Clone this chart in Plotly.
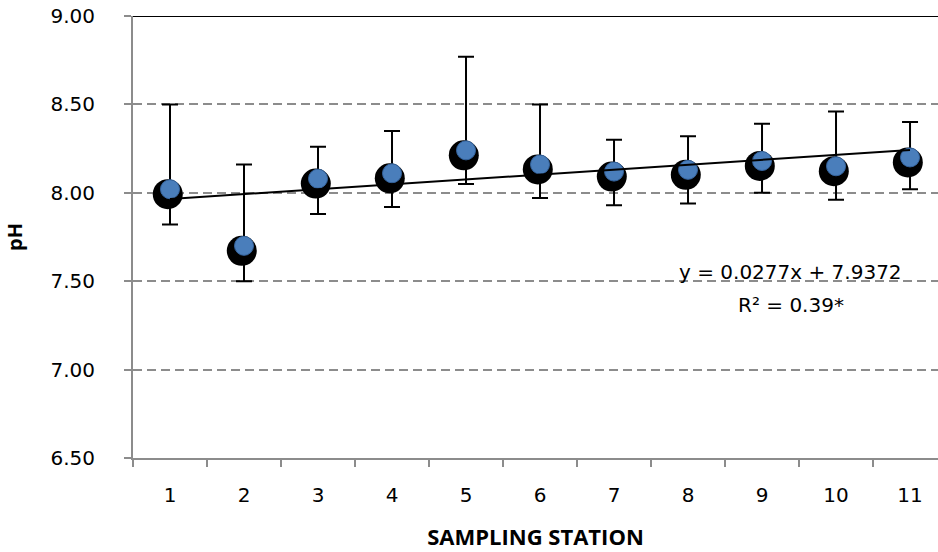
import plotly.graph_objects as go

# pH by sampling station: mean with asymmetric error bars
stations = [1, 2, 3, 4, 5, 6, 7, 8, 9, 10, 11]
ph_mean = [8.02, 7.70, 8.08, 8.11, 8.24, 8.16, 8.12, 8.13, 8.18, 8.15, 8.20]
ph_upper = [8.50, 8.16, 8.26, 8.35, 8.77, 8.50, 8.30, 8.32, 8.39, 8.46, 8.40]
ph_lower = [7.82, 7.50, 7.88, 7.92, 8.05, 7.97, 7.93, 7.94, 8.00, 7.96, 8.02]

# Linear trend reported for the series
trend_slope = 0.0277
trend_intercept = 7.9372
trend_r2_label = "R² = 0.39*"

y_ticks = [6.5, 7.0, 7.5, 8.0, 8.5, 9.0]
y_tick_text = ["6.50", "7.00", "7.50", "8.00", "8.50", "9.00"]
x_tick_text = [str(s) for s in stations]

err_plus = [u - m for u, m in zip(ph_upper, ph_mean)]
err_minus = [m - l for m, l in zip(ph_mean, ph_lower)]
trend_y = [trend_intercept + trend_slope * s for s in stations]

# drop shadow offset (data units) for the marker
shadow_dx, shadow_dy = -0.03, -0.028

FONT = "DejaVu Sans"
TITLE_FONT = "Open Sans"
TICK_SIZE = 20

fig = go.Figure()

# error bars (drawn beneath markers)
fig.add_trace(go.Scatter(
    x=stations, y=ph_mean, mode="markers",
    marker=dict(size=1, color="rgba(0,0,0,0)"),
    error_y=dict(type="data", symmetric=False, array=err_plus, arrayminus=err_minus,
                 color="black", thickness=2, width=8),
    hoverinfo="skip", showlegend=False,
))

# marker shadow
fig.add_trace(go.Scatter(
    x=[s + shadow_dx for s in stations], y=[m + shadow_dy for m in ph_mean],
    mode="markers", marker=dict(size=30, color="black"),
    hoverinfo="skip", showlegend=False,
))

# station means
fig.add_trace(go.Scatter(
    x=stations, y=ph_mean, mode="markers",
    marker=dict(size=19, color="#4a7ebb", line=dict(color="#35649e", width=1)),
    name="pH", showlegend=False,
))

# trend line
fig.add_trace(go.Scatter(
    x=stations, y=trend_y, mode="lines",
    line=dict(color="black", width=2),
    hoverinfo="skip", showlegend=False,
))

# solid upper boundary at the top of the scale
fig.add_shape(type="line", xref="paper", yref="y", x0=0, x1=1, y0=y_ticks[-1], y1=y_ticks[-1],
              line=dict(color="black", width=2), layer="above")

# trend equation and fit statistic
fig.add_annotation(
    xref="x", yref="y", x=9.39, y=7.552,
    text=f"y = {trend_slope}x + {trend_intercept}",
    showarrow=False, font=dict(family=FONT, size=TICK_SIZE, color="black"),
)
fig.add_annotation(
    xref="x", yref="y", x=9.39, y=7.365,
    text=trend_r2_label,
    showarrow=False, font=dict(family=FONT, size=TICK_SIZE, color="black"),
)

fig.update_layout(
    width=938, height=552,
    margin=dict(l=133, r=0, t=16, b=94),
    paper_bgcolor="white", plot_bgcolor="white",
    font=dict(family=FONT, size=TICK_SIZE, color="black"),
    xaxis=dict(
        range=[0.5, 11.378], tickmode="array", tickvals=stations, ticktext=x_tick_text,
        ticks="", showgrid=False, zeroline=False,
        showline=True, linecolor="#8c8c8c", linewidth=2,
        minor=dict(tick0=0.5, dtick=1, ticks="outside", ticklen=7, tickcolor="#8c8c8c",
                   tickwidth=2, showgrid=False),
        tickfont=dict(family=FONT, size=TICK_SIZE),
        ticklabelstandoff=18,
        title=dict(text="<b>SAMPLING STATION</b>", standoff=24,
                   font=dict(family=TITLE_FONT, size=22)),
    ),
    yaxis=dict(
        range=[6.5, 9.0], tickmode="array", tickvals=y_ticks, ticktext=y_tick_text,
        ticks="outside", ticklen=7, tickcolor="#8c8c8c", tickwidth=2,
        showgrid=True, gridcolor="#8c8c8c", gridwidth=2, griddash="9px,5px",
        zeroline=False, showline=True, linecolor="#8c8c8c", linewidth=2,
        tickfont=dict(family=FONT, size=TICK_SIZE),
        ticklabelstandoff=25,
        title=dict(text="<b>pH</b>", standoff=22, font=dict(family=TITLE_FONT, size=20)),
    ),
)

fig.write_html("out.html")
